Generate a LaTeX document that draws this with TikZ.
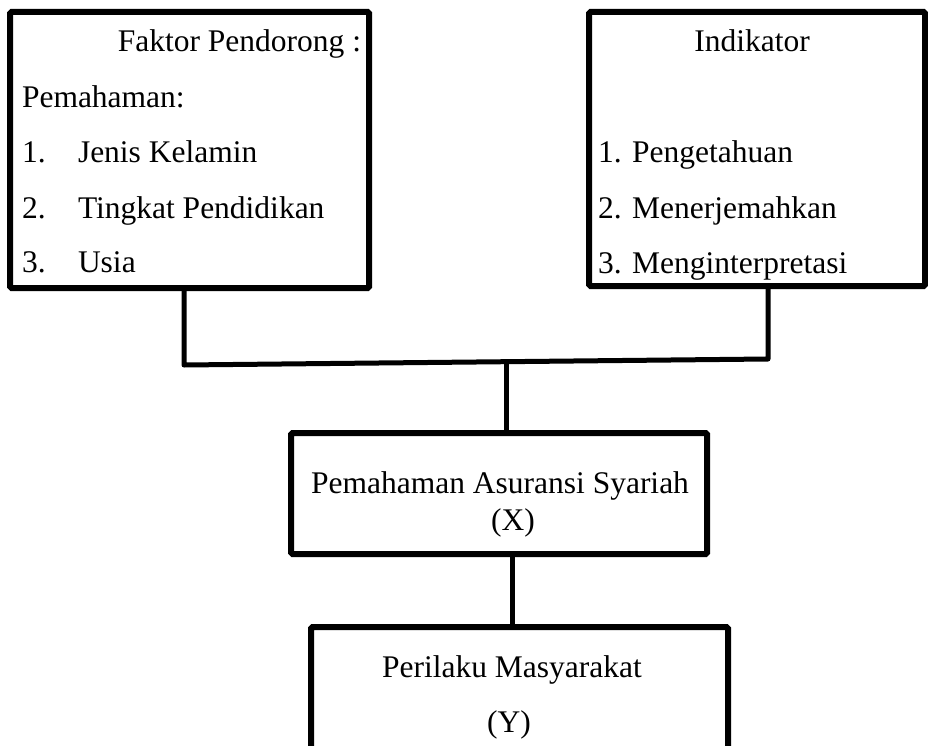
\documentclass[tikz,border=0pt]{standalone}
\usepackage{fontspec}
\setmainfont{Liberation Serif}
\usepackage{tikz}
\tikzset{
    every node/.style={inner sep=0pt, outer sep=0pt,
    	font=\fontsize{31.5}{55}\selectfont}
}
\tikzset{
    box/.style={draw, line width=6pt, rounded corners=1.5pt}
}
\tikzset{
	link/.style={line width=5pt, line join=round}
}

\begin{document}
\begin{tikzpicture}[x=1pt, y=-1pt]
	\clip (0,0) rectangle (928,746);
	\node (faktor) [box, minimum width=359pt, minimum height=276pt] at (189.5,150) {};
	\node (indikator) [box, minimum width=336pt, minimum height=274pt] at (757,149) {};
	\node (pemahaman) [box, minimum width=416pt, minimum height=121pt] at (499,493.5) {};
	\node (perilaku) [box, minimum width=417pt, minimum height=173pt] at (519.5,713.5) {};

	% texts of the left box
	\node (f0) [anchor=base east] at (361,52) {Faktor Pendorong :};
	\node (f1) [anchor=base west] at (22,108) {Pemahaman:};
	\node (n1) [anchor=base west] at (22,163) {1.};
	\node (f2) [anchor=base west] at (78,163) {Jenis Kelamin};
	\node (n2) [anchor=base west] at (22,218) {2.};
	\node (f3) [anchor=base west] at (78,218) {Tingkat Pendidikan};
	\node (n3) [anchor=base west] at (22,272) {3.};
	\node (f4) [anchor=base west] at (78,272) {Usia};

	% texts of the right box
	\node (i0) [anchor=base] at (752,52) {Indikator};
	\node (i1) [anchor=base west] at (598,163) {1. Pengetahuan};
	\node (i2) [anchor=base west] at (598,218) {2. Menerjemahkan};
	\node (i3) [anchor=base west] at (598,273) {3. Menginterpretasi};

	\node (x0) [anchor=base] at (500,493) {Pemahaman Asuransi Syariah};
	\node (x1) [anchor=base] at (513,530) {(X)};
	\node (y0) [anchor=base] at (512,677) {Perilaku Masyarakat};
	\node (y1) [anchor=base] at (509,732) {(Y)};

	\coordinate (jl) at (184,365);
	\coordinate (jr) at (768,359);
	\coordinate (jm) at (506,362);
	\coordinate (jd) at (512,560);

	\draw [link] (faktor.south -| jl) -- (jl) -- (jr) -- (indikator.south -| jr);
	\draw [link] (jm) -- (pemahaman.north -| jm);
	\draw [link] (pemahaman.south -| jd) -- (perilaku.north -| jd);
\end{tikzpicture}
\end{document}
